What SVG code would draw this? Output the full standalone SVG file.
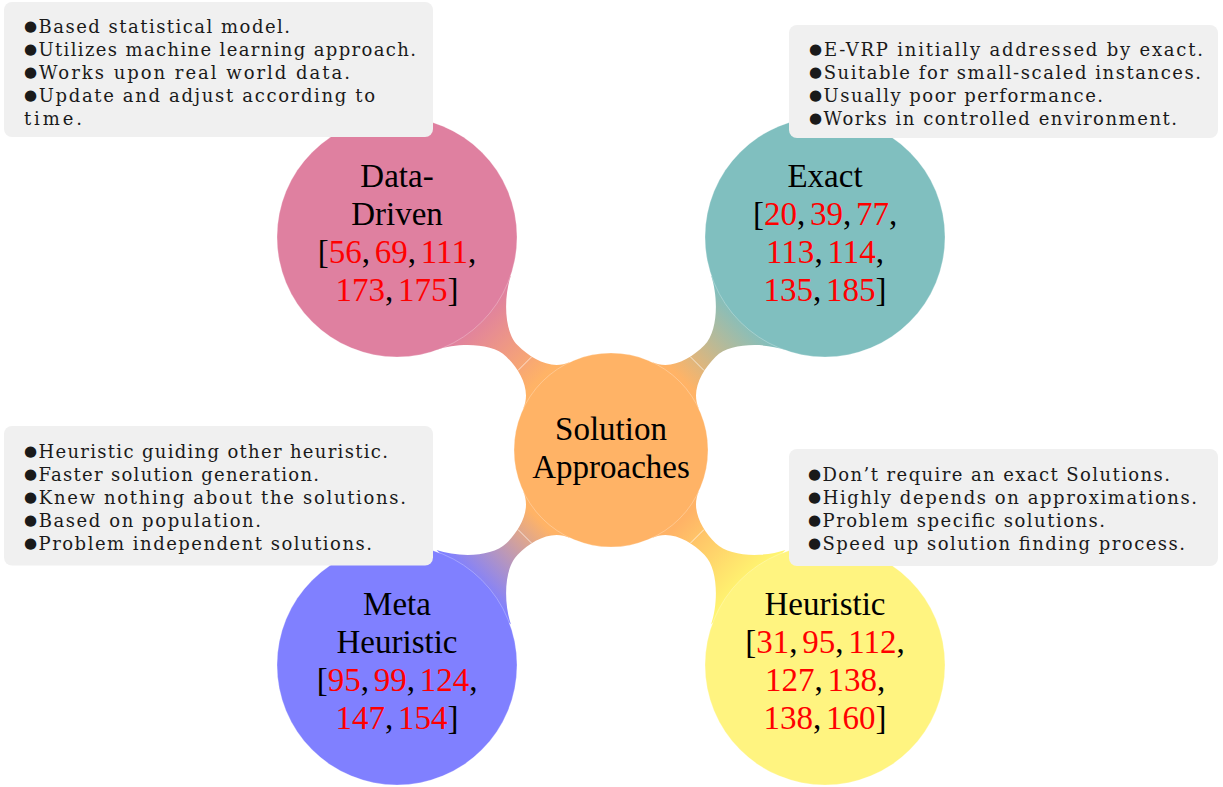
<svg xmlns="http://www.w3.org/2000/svg" xmlns:xlink="http://www.w3.org/1999/xlink" width="1223" height="787" viewBox="0 0 1223 787">
  <style>
    .lbl { font-family: "Liberation Serif", "Times New Roman", serif; font-size: 33px; text-anchor: middle; fill: #000; word-spacing: -3.5px; }
    .r { fill: #ff0000; }
    .note { font-family: "DejaVu Serif", "Liberation Serif", serif; font-size: 18px; fill: #1a1a1a; }
    .b { font-size: 15px; baseline-shift: 2px; }
    .box { fill: #f0f0f0; }
    .concept { stroke: #ffffff; stroke-opacity: 0.45; stroke-width: 0.6; }
  </style>
  <defs>
    <!-- connection bar in local coordinates: parent at x=0 (r=97), child at x=302 (r=120) -->
    <g id="bar">
      <path d="M91.2,33.2 C98,14.4 120,8 140,8 C160,8 184.5,32.8 194.1,52.6 L194.1,-52.6 C184.5,-32.8 160,-8 140,-8 C120,-8 98,-14.4 91.2,-33.2 Z"/>
      <line x1="122" y1="-9.5" x2="122" y2="9.5" stroke="#ffffff" stroke-width="0.8" stroke-opacity="0.8"/>
    </g>
    <linearGradient id="g-dd" gradientUnits="userSpaceOnUse" x1="100" y1="0" x2="190" y2="0">
      <stop offset="0" stop-color="#ffb366"/><stop offset="1" stop-color="#df80a0"/>
    </linearGradient>
    <linearGradient id="g-ex" gradientUnits="userSpaceOnUse" x1="100" y1="0" x2="190" y2="0">
      <stop offset="0" stop-color="#ffb366"/><stop offset="1" stop-color="#80bfbf"/>
    </linearGradient>
    <linearGradient id="g-mh" gradientUnits="userSpaceOnUse" x1="100" y1="0" x2="190" y2="0">
      <stop offset="0" stop-color="#ffb366"/><stop offset="1" stop-color="#8080ff"/>
    </linearGradient>
    <linearGradient id="g-he" gradientUnits="userSpaceOnUse" x1="100" y1="0" x2="190" y2="0">
      <stop offset="0" stop-color="#ffb366"/><stop offset="1" stop-color="#fff570"/>
    </linearGradient>
  </defs>

  <rect width="1223" height="787" fill="#ffffff"/>

  <!-- connectors from the root concept to each child -->
  <g id="connectors">
    <use xlink:href="#bar" fill="url(#g-dd)" transform="translate(611,450) rotate(-135)"/>
    <use xlink:href="#bar" fill="url(#g-ex)" transform="translate(611,450) rotate(-45)"/>
    <use xlink:href="#bar" fill="url(#g-mh)" transform="translate(611,450) rotate(135)"/>
    <use xlink:href="#bar" fill="url(#g-he)" transform="translate(611,450) rotate(45)"/>
  </g>

  <g id="solution-approaches">
    <circle class="concept" cx="611" cy="450" r="97" fill="#ffb366"/>
    <text class="lbl" x="611" y="439.5">Solution</text>
    <text class="lbl" x="611" y="477.5">Approaches</text>
  </g>

  <g id="data-driven">
    <circle class="concept" cx="397" cy="237" r="120" fill="#df80a0"/>
    <text class="lbl" x="397" y="186.5">Data-</text>
    <text class="lbl" x="397" y="224.8">Driven</text>
    <text class="lbl" x="397" y="263.1">[<tspan class="r">56</tspan>, <tspan class="r">69</tspan>, <tspan class="r">111</tspan>,</text>
    <text class="lbl" x="397" y="301.4"><tspan class="r">173</tspan>, <tspan class="r">175</tspan>]</text>
  </g>

  <g id="exact">
    <circle class="concept" cx="825" cy="237" r="120" fill="#80bfbf"/>
    <text class="lbl" x="825" y="186.5">Exact</text>
    <text class="lbl" x="825" y="224.8">[<tspan class="r">20</tspan>, <tspan class="r">39</tspan>, <tspan class="r">77</tspan>,</text>
    <text class="lbl" x="825" y="263.1"><tspan class="r">113</tspan>, <tspan class="r">114</tspan>,</text>
    <text class="lbl" x="825" y="301.4"><tspan class="r">135</tspan>, <tspan class="r">185</tspan>]</text>
  </g>

  <g id="meta-heuristic">
    <circle class="concept" cx="397" cy="665" r="120" fill="#8080ff"/>
    <text class="lbl" x="397" y="614.5">Meta</text>
    <text class="lbl" x="397" y="652.8">Heuristic</text>
    <text class="lbl" x="397" y="691.1">[<tspan class="r">95</tspan>, <tspan class="r">99</tspan>, <tspan class="r">124</tspan>,</text>
    <text class="lbl" x="397" y="729.4"><tspan class="r">147</tspan>, <tspan class="r">154</tspan>]</text>
  </g>

  <g id="heuristic">
    <circle class="concept" cx="825" cy="665" r="120" fill="#fff480"/>
    <text class="lbl" x="825" y="614.5">Heuristic</text>
    <text class="lbl" x="825" y="652.8">[<tspan class="r">31</tspan>, <tspan class="r">95</tspan>, <tspan class="r">112</tspan>,</text>
    <text class="lbl" x="825" y="691.1"><tspan class="r">127</tspan>, <tspan class="r">138</tspan>,</text>
    <text class="lbl" x="825" y="729.4"><tspan class="r">138</tspan>, <tspan class="r">160</tspan>]</text>
  </g>

  <!-- annotation boxes -->
  <g id="note-data-driven">
    <rect class="box" x="4" y="2" width="429" height="135" rx="8"/>
    <text class="note" x="24" y="33" textLength="266" lengthAdjust="spacing"><tspan class="b">●</tspan>Based statistical model.</text>
    <text class="note" x="24" y="56" textLength="392" lengthAdjust="spacing"><tspan class="b">●</tspan>Utilizes machine learning approach.</text>
    <text class="note" x="24" y="79" textLength="326" lengthAdjust="spacing"><tspan class="b">●</tspan>Works upon real world data.</text>
    <text class="note" x="24" y="102" textLength="351" lengthAdjust="spacing"><tspan class="b">●</tspan>Update and adjust according to</text>
    <text class="note" x="24" y="125" textLength="58" lengthAdjust="spacing">time.</text>
  </g>

  <g id="note-exact">
    <rect class="box" x="789" y="25" width="429" height="113" rx="8"/>
    <text class="note" x="809" y="56" textLength="394" lengthAdjust="spacing"><tspan class="b">●</tspan>E-VRP initially addressed by exact.</text>
    <text class="note" x="809" y="79" textLength="392" lengthAdjust="spacing"><tspan class="b">●</tspan>Suitable for small-scaled instances.</text>
    <text class="note" x="809" y="102" textLength="294" lengthAdjust="spacing"><tspan class="b">●</tspan>Usually poor performance.</text>
    <text class="note" x="809" y="125" textLength="368" lengthAdjust="spacing"><tspan class="b">●</tspan>Works in controlled environment.</text>
  </g>

  <g id="note-meta-heuristic">
    <rect class="box" x="4" y="426" width="429" height="139.5" rx="8"/>
    <text class="note" x="24" y="458" textLength="364" lengthAdjust="spacing"><tspan class="b">●</tspan>Heuristic guiding other heuristic.</text>
    <text class="note" x="24" y="481" textLength="295" lengthAdjust="spacing"><tspan class="b">●</tspan>Faster solution generation.</text>
    <text class="note" x="24" y="504" textLength="382" lengthAdjust="spacing"><tspan class="b">●</tspan>Knew nothing about the solutions.</text>
    <text class="note" x="24" y="527" textLength="237" lengthAdjust="spacing"><tspan class="b">●</tspan>Based on population.</text>
    <text class="note" x="24" y="550" textLength="348" lengthAdjust="spacing"><tspan class="b">●</tspan>Problem independent solutions.</text>
  </g>

  <g id="note-heuristic">
    <rect class="box" x="789" y="449" width="429" height="117" rx="8"/>
    <text class="note" x="808" y="481" textLength="362" lengthAdjust="spacing"><tspan class="b">●</tspan>Don’t require an exact Solutions.</text>
    <text class="note" x="808" y="504" textLength="389" lengthAdjust="spacing"><tspan class="b">●</tspan>Highly depends on approximations.</text>
    <text class="note" x="808" y="527" textLength="297" lengthAdjust="spacing"><tspan class="b">●</tspan>Problem specific solutions.</text>
    <text class="note" x="808" y="550" textLength="377" lengthAdjust="spacing"><tspan class="b">●</tspan>Speed up solution finding process.</text>
  </g>
</svg>
